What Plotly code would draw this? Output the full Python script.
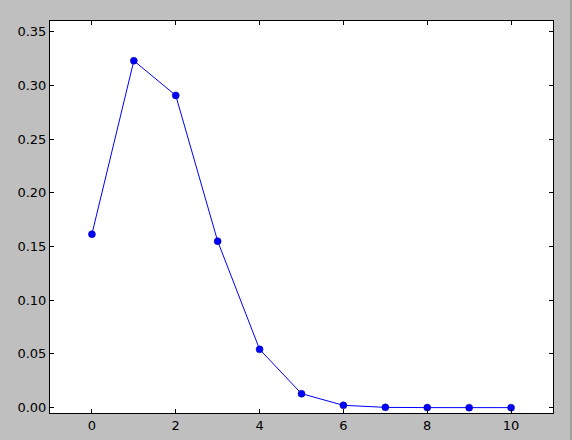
import plotly.graph_objects as go

x_vals = [0, 1, 2, 3, 4, 5, 6, 7, 8, 9, 10]
y_vals = [0.1615, 0.3230, 0.2907, 0.1550, 0.0543, 0.0130, 0.00217, 0.000248, 0.0000186, 0.00000083, 0.0000000165]
x_ticks = [0, 2, 4, 6, 8, 10]
y_ticks = [0.00, 0.05, 0.10, 0.15, 0.20, 0.25, 0.30, 0.35]
y_tick_text = ["0.00", "0.05", "0.10", "0.15", "0.20", "0.25", "0.30", "0.35"]

fig = go.Figure()
fig.add_trace(go.Scatter(
    x=x_vals, y=y_vals, mode="lines+markers",
    line=dict(color="#0000ff", width=1),
    marker=dict(color="#0000ff", size=7, line=dict(color="#000080", width=0.5)),
    showlegend=False,
))

axis_common = dict(
    showgrid=False, zeroline=False, showline=True, linecolor="black", linewidth=1,
    mirror="allticks", ticks="inside", ticklen=4, tickcolor="black", tickwidth=1,
    tickfont=dict(family="DejaVu Sans", size=13, color="black"), automargin=False,
)

fig.update_layout(
    width=572, height=440,
    paper_bgcolor="#bfbfbf", plot_bgcolor="white",
    margin=dict(l=50, r=19, t=21, b=27, autoexpand=False),
    xaxis=dict(range=[-1, 11], tickvals=x_ticks, **axis_common),
    yaxis=dict(range=[-0.005, 0.36], tickvals=y_ticks, ticktext=y_tick_text, **axis_common),
    shapes=[dict(type="line", xref="paper", yref="paper", x0=1.0358, x1=1.0358, y0=-0.07, y1=1.06,
                 line=dict(color="#808080", width=1))],
)

fig.write_html("out.html", config={"displayModeBar": False},
               post_script="document.body.style.margin='0';document.body.style.overflow='hidden';")
